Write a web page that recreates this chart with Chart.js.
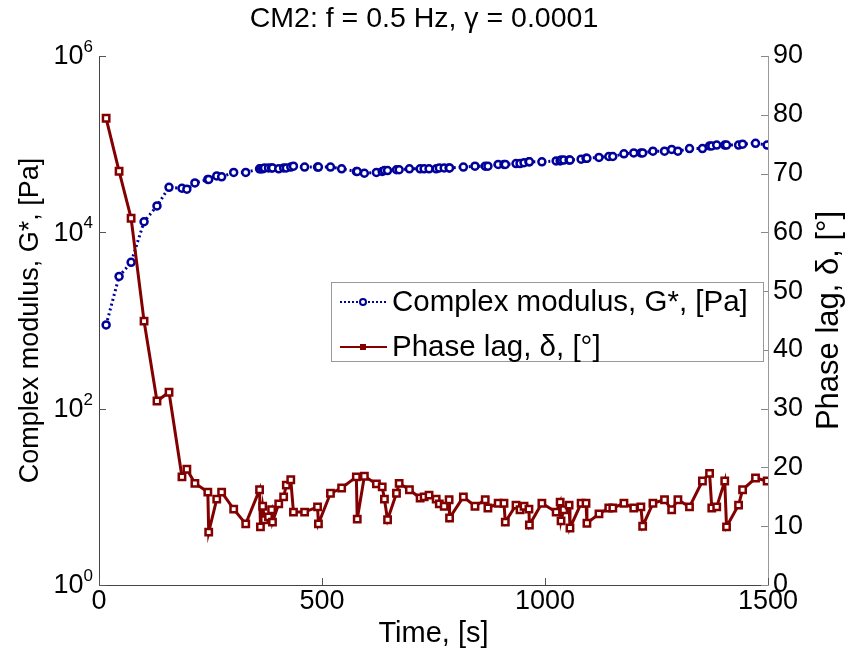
<!DOCTYPE html>
<html>
<head>
<meta charset="utf-8">
<script src="https://cdn.jsdelivr.net/npm/chart.js@4"></script>
<style>
  body { margin: 0; background: #fff; }
</style>
</head>
<body>
<canvas id="chart" width="848" height="658"></canvas>
<script>
// sample times [s]
const times = [16, 45, 72, 101, 130, 157, 186, 197, 215, 244, 246, 264, 275, 302, 329,
  360, 362, 367, 371, 380, 387, 389, 403, 414, 420, 430, 436, 461, 490, 492, 519, 544,
  577, 579, 595, 622, 635, 640, 647, 667, 673, 696, 720, 729, 740, 756, 763, 774, 785, 786,
  817, 843, 866, 872, 895, 908, 911, 935, 944, 953, 964, 965, 993, 1025, 1034, 1036, 1042,
  1054, 1056, 1081, 1092, 1094, 1121, 1143, 1152, 1177, 1199, 1215, 1219, 1242, 1268, 1284,
  1298, 1324, 1353, 1369, 1374, 1385, 1403, 1407, 1434, 1443, 1472, 1498];

// complex modulus G* [Pa]
const modulus = [891, 3162, 4571, 13183, 19953, 32359, 31623, 30903, 36308, 39811, 39811,
  43652, 42658, 47863, 47863, 52481, 52481, 52481, 53703, 53703, 53703, 53703, 52481, 53703,
  53703, 54954, 56234, 54954, 54954, 54954, 54954, 52481, 48978, 48978, 46774, 47863, 48978,
  50119, 50119, 51286, 51286, 52481, 52481, 52481, 52481, 52481, 53703, 53703, 53703, 53703,
  54954, 56234, 56234, 56234, 58884, 58884, 58884, 60256, 60256, 61660, 63096, 63096, 63096,
  64565, 64565, 66069, 66069, 66069, 66069, 67608, 69183, 69183, 70795, 72444, 72444, 77625,
  79433, 79433, 79433, 83176, 83176, 87096, 83176, 89125, 89125, 95499, 95499, 97724, 97724,
  97724, 97724, 100000, 102329, 97724];

// phase lag delta [deg]
const phase = [79.4, 70.4, 62.4, 44.9, 31.3, 32.8, 18.4, 19.7, 17.3, 15.8, 9.0, 14.6, 15.8,
  12.9, 10.4, 16.2, 9.9, 13.4, 11.1, 11.6, 12.8, 10.7, 13.8, 15.0, 17.0, 17.9, 12.4, 12.4,
  13.3, 10.4, 15.6, 16.5, 18.4, 11.2, 18.5, 17.2, 16.7, 14.6, 11.1, 15.6, 17.3, 16.2, 14.8,
  15.0, 15.3, 14.6, 13.8, 13.4, 14.5, 11.4, 15.0, 13.4, 14.5, 13.1, 13.9, 13.9, 10.7, 13.6,
  12.8, 13.4, 12.9, 10.2, 13.9, 12.4, 14.1, 10.9, 12.8, 13.6, 9.7, 13.9, 13.9, 10.5, 12.1,
  13.1, 13.1, 13.9, 13.1, 13.3, 10.0, 13.9, 14.5, 12.8, 14.5, 13.3, 17.7, 19.0, 13.1, 13.3,
  17.7, 9.9, 13.6, 16.2, 18.2, 17.7];

const leftTicks = [1, 100, 10000, 1000000];
const xTicks = [0, 500, 1000, 1500];

const BLUE = "rgb(0,0,155)";
const RED = "rgb(130,0,0)";
const FONT = "'Liberation Sans', Arial, sans-serif";

const seriesG = times.map((t, i) => ({ x: t, y: modulus[i] }));
const seriesD = times.map((t, i) => ({ x: t, y: phase[i] }));

// inside ticks, superscript labels on the log axis, right title and the legend box
const decorPlugin = {
  id: "decor",
  afterDraw(chart) {
    const ctx = chart.ctx;
    const area = chart.chartArea;
    const xs = chart.scales.x;
    const yl = chart.scales.yL;
    const yr = chart.scales.yR;
    ctx.save();

    // tick marks pointing into the plot
    ctx.lineWidth = 1;
    ctx.strokeStyle = "#555";
    leftTicks.forEach(v => {
      const y = Math.round(yl.getPixelForValue(v)) + 0.5;
      ctx.beginPath();
      ctx.moveTo(area.left, y);
      ctx.lineTo(area.left + 7, y);
      ctx.stroke();
    });
    xTicks.forEach(v => {
      const x = Math.round(xs.getPixelForValue(v)) + 0.5;
      ctx.beginPath();
      ctx.moveTo(x, area.bottom);
      ctx.lineTo(x, area.bottom - 7);
      ctx.stroke();
    });
    ctx.strokeStyle = "#888";
    for (let v = 0; v <= 90; v += 10) {
      const y = Math.round(yr.getPixelForValue(v)) + 0.5;
      ctx.beginPath();
      ctx.moveTo(area.right, y);
      ctx.lineTo(area.right - 7, y);
      ctx.stroke();
    }

    // 10^n labels
    ctx.fillStyle = "#000";
    leftTicks.forEach(v => {
      const y = yl.getPixelForValue(v);
      const exp = String(Math.round(Math.log10(v)));
      ctx.font = "17px " + FONT;
      const ew = ctx.measureText(exp).width;
      ctx.textAlign = "right";
      ctx.textBaseline = "alphabetic";
      ctx.fillText(exp, 93, y - 4);
      ctx.font = "27px " + FONT;
      ctx.textBaseline = "middle";
      ctx.fillText("10", 93 - ew, y + 1);
    });

    // right axis title, read bottom to top
    ctx.save();
    ctx.translate(829, (area.top + area.bottom) / 2);
    ctx.rotate(-Math.PI / 2);
    ctx.font = "31px " + FONT;
    ctx.textAlign = "center";
    ctx.textBaseline = "middle";
    ctx.fillText("Phase lag, \u03B4, [\u00B0]", 0, 0);
    ctx.restore();

    // legend
    const lx = 331, ly = 282, lw = 432, lh = 79;
    ctx.fillStyle = "#fff";
    ctx.fillRect(lx, ly, lw, lh);
    ctx.strokeStyle = "#999";
    ctx.lineWidth = 1;
    ctx.strokeRect(lx + 0.5, ly + 0.5, lw, lh);

    const rows = [
      { text: "Complex modulus, G*, [Pa]", color: BLUE, dash: [2, 2], y: 302, marker: "circle" },
      { text: "Phase lag, \u03B4, [\u00B0]", color: RED, dash: [], y: 347, marker: "rect" }
    ];
    rows.forEach(r => {
      ctx.strokeStyle = r.color;
      ctx.lineWidth = 2;
      ctx.setLineDash(r.dash);
      ctx.beginPath();
      ctx.moveTo(340, r.y);
      ctx.lineTo(387, r.y);
      ctx.stroke();
      ctx.setLineDash([]);
      if (r.marker === "circle") {
        ctx.fillStyle = "#fff";
        ctx.beginPath();
        ctx.arc(363, r.y, 3, 0, Math.PI * 2);
        ctx.fill();
        ctx.stroke();
      } else {
        ctx.fillStyle = r.color;
        ctx.fillRect(360, r.y - 3, 6, 6);
      }
      ctx.fillStyle = "#000";
      ctx.font = "29.5px " + FONT;
      ctx.textAlign = "left";
      ctx.textBaseline = "middle";
      ctx.fillText(r.text, 392, r.y + 1);
    });

    ctx.restore();
  }
};

new Chart(document.getElementById("chart"), {
  type: "line",
  data: {
    datasets: [
      {
        label: "Complex modulus, G*, [Pa]",
        data: seriesG,
        yAxisID: "yL",
        borderColor: BLUE,
        backgroundColor: "#fff",
        borderWidth: 3,
        borderDash: [2, 3],
        pointStyle: "circle",
        pointRadius: 3.5,
        pointBorderWidth: 2.5,
        pointBorderColor: BLUE,
        pointBackgroundColor: "#fff",
        tension: 0,
        order: 2
      },
      {
        label: "Phase lag, \u03B4, [\u00B0]",
        data: seriesD,
        yAxisID: "yR",
        borderColor: RED,
        backgroundColor: "#fff",
        borderWidth: 3,
        pointStyle: "rect",
        pointRadius: 4.5,
        pointBorderWidth: 2.5,
        pointBorderColor: RED,
        pointBackgroundColor: "#fff",
        tension: 0,
        order: 1
      }
    ]
  },
  plugins: [decorPlugin],
  options: {
    responsive: false,
    animation: false,
    devicePixelRatio: 1,
    layout: { padding: 0 },
    plugins: {
      legend: { display: false },
      tooltip: { enabled: false },
      title: {
        display: true,
        text: "CM2: f = 0.5 Hz, \u03B3 = 0.0001",
        color: "#000",
        font: { family: FONT, size: 28.5, weight: "normal" },
        padding: { top: 2, bottom: 19.8 }
      }
    },
    scales: {
      x: {
        type: "linear",
        min: 0,
        max: 1500,
        afterBuildTicks: s => { s.ticks = xTicks.map(v => ({ value: v })); },
        afterFit: s => { s.height = 73; },
        ticks: {
          callback: v => String(v),
          color: "#000", font: { family: FONT, size: 27 }, padding: 0, maxRotation: 0
        },
        grid: { drawOnChartArea: false, drawTicks: false },
        border: { display: true, color: "#444", width: 1 },
        title: {
          display: true,
          text: "Time, [s]",
          color: "#000",
          font: { family: FONT, size: 29 },
          padding: { top: 0, bottom: 7 }
        }
      },
      yL: {
        type: "logarithmic",
        position: "left",
        min: 1,
        max: 1000000,
        afterBuildTicks: s => { s.ticks = leftTicks.map(v => ({ value: v })); },
        afterFit: s => { s.width = 99; },
        ticks: { callback: () => "" },
        grid: { drawOnChartArea: false, drawTicks: false },
        border: { display: true, color: "#444", width: 1 },
        title: {
          display: true,
          text: "Complex modulus, G*, [Pa]",
          color: "#000",
          font: { family: FONT, size: 27 },
          padding: { top: 14, bottom: 0 }
        }
      },
      yR: {
        type: "linear",
        position: "right",
        min: 0,
        max: 90,
        afterFit: s => { s.width = 80; },
        ticks: { stepSize: 10, color: "#000", font: { family: FONT, size: 27 }, padding: 5 },
        grid: { drawOnChartArea: false, drawTicks: false },
        border: { display: true, color: "#999", width: 1 },
        title: { display: false }
      }
    }
  }
});
</script>
</body>
</html>
